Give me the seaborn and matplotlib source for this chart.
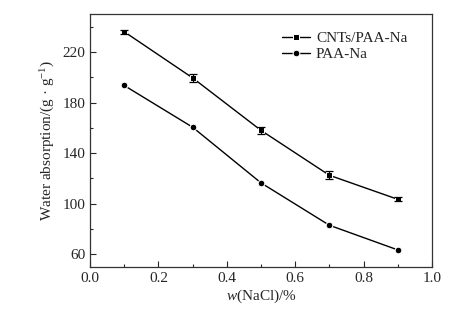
import numpy as np
import pandas as pd
import matplotlib
matplotlib.use("Agg")
import matplotlib.pyplot as plt
import seaborn as sns
from matplotlib.ticker import MultipleLocator

sns.set_style("ticks")
plt.rcParams['font.family'] = ['Liberation Serif', 'DejaVu Serif']
plt.rcParams['mathtext.fontset'] = 'custom'
plt.rcParams['mathtext.rm'] = 'Liberation Serif'
plt.rcParams['mathtext.it'] = 'Liberation Serif:italic'

# 数据
nacl = [0.1, 0.3, 0.5, 0.7, 0.9]
cnts_paa = [236, 199.5, 158, 122.5, 103.5]
cnts_err = [1.5, 3.0, 3.0, 3.0, 1.5]
paa = [193.5, 160.5, 116.5, 83, 63.5]

df = pd.DataFrame({
    "x": nacl * 2,
    "y": cnts_paa + paa,
    "sample": ["CNTs/PAA-Na"] * 5 + ["PAA-Na"] * 5,
})

fig = plt.figure(figsize=(4.7, 3.23), dpi=100)
ax = fig.add_axes([90 / 470, 1 - 267 / 323, (432 - 90) / 470, (267 - 14) / 323])

sns.lineplot(data=df, x="x", y="y", style="sample", markers={"CNTs/PAA-Na": "s", "PAA-Na": "o"},
             dashes=False, color="black", markersize=4.8, linewidth=1.0, ax=ax)
ax.errorbar(nacl, cnts_paa, yerr=cnts_err, fmt="none", ecolor="black",
            elinewidth=0.9, capsize=2.8, capthick=0.9)

ax.set_xlim(0, 1.0)
ax.set_ylim(50, 250)
ax.xaxis.set_major_locator(MultipleLocator(0.2))
ax.xaxis.set_minor_locator(MultipleLocator(0.1))
ax.yaxis.set_major_locator(MultipleLocator(40))
ax.yaxis.set_minor_locator(MultipleLocator(20))
ax.set_yticks([60, 100, 140, 180, 220])
ax.xaxis.set_major_formatter(matplotlib.ticker.FormatStrFormatter("%.1f"))
ax.tick_params(which="both", direction="in", labelsize=11, width=0.8, top=False, right=False)
ax.tick_params(which="major", length=4)
ax.tick_params(which="minor", length=2)
for s in ax.spines.values():
    s.set_linewidth(0.9)
    s.set_color("#333333")

ax.set_xlabel("$w$(NaCl)/%", fontsize=11, labelpad=2)
ax.set_ylabel("Water absorption/(g · g$^{-1}$)", fontsize=11, labelpad=4)

leg = ax.legend(loc="upper left", bbox_to_anchor=(0.54, 0.96), frameon=False, fontsize=11,
                handlelength=1.8, handletextpad=0.4, labelspacing=0.15, borderpad=0)
leg.set_title(None)

fig.savefig("out.png", dpi=100)
